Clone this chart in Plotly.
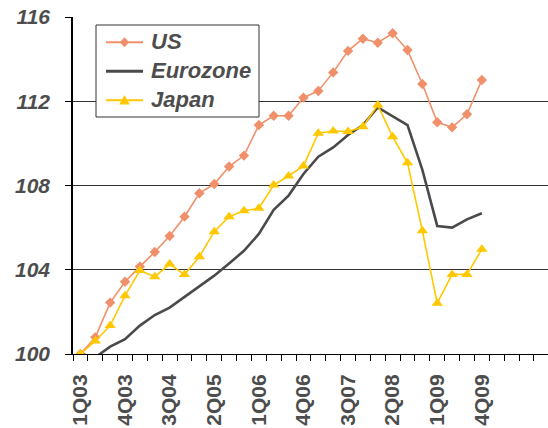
import plotly.graph_objects as go

# Quarterly index levels, 1Q03 = 100
quarters = [f"{q}Q{y:02d}" for y in range(3, 10) for q in range(1, 5)]

us = [100.0, 100.79, 102.44, 103.43, 104.15, 104.84, 105.6, 106.52,
      107.63, 108.07, 108.9, 109.42, 110.87, 111.31, 111.31, 112.17,
      112.49, 113.37, 114.39, 114.97, 114.78, 115.23, 114.43, 112.82,
      111.0, 110.76, 111.38, 113.01]

eurozone = [100.0, 99.84, 100.35, 100.7, 101.35, 101.85, 102.2, 102.72,
            103.2, 103.72, 104.3, 104.9, 105.7, 106.85, 107.52, 108.55,
            109.37, 109.81, 110.4, 110.87, 111.71, 111.3, 110.87, 108.74,
            106.08, 106.0, 106.39, 106.68]

japan = [100.0, 100.62, 101.35, 102.77, 103.96, 103.67, 104.27, 103.77,
         104.62, 105.81, 106.52, 106.8, 106.92, 108.02, 108.45, 108.93,
         110.48, 110.59, 110.56, 110.79, 111.82, 110.32, 109.08, 105.85,
         102.41, 103.78, 103.78, 104.97]

y_ticks = [100, 104, 108, 112, 116]
label_every = 3

x = list(range(len(quarters)))
text_color = "#4d4d4d"
font_family = "Liberation Sans, Arial, sans-serif"

W, H = 548, 428
M_L, M_R, M_T, M_B = 73, 0, 17, 74

# name, values, colour, line width, marker symbol (None = plain line)
series = [
    ("US", us, "#F0906A", 1.6, "diamond"),
    ("Eurozone", eurozone, "#4a4a4a", 2.6, None),
    ("Japan", japan, "#FFC800", 1.6, "triangle-up"),
]
marker_sizes = {"diamond": 8, "triangle-up": 10}

fig = go.Figure()
for name, vals, color, lw, sym in series:
    fig.add_trace(go.Scatter(
        x=x, y=vals, name=name,
        mode="lines+markers" if sym else "lines",
        line=dict(color=color, width=lw),
        marker=dict(symbol=sym, size=marker_sizes[sym], color=color) if sym else None,
        showlegend=False,
    ))

# Legend box drawn by hand (pixel positions converted to paper fractions)
def px_x(p):
    return (p - M_L) / (W - M_L - M_R)

def px_y(p):
    return (H - M_B - p) / (H - M_T - M_B)

box_l, box_r, box_t, box_b = 96, 259, 25, 117
row_y0, row_step = 42.3, 29
line_l, line_r = 106, 143
text_x = 149

shapes = [dict(type="rect", xref="paper", yref="paper",
               x0=px_x(box_l), x1=px_x(box_r), y0=px_y(box_b), y1=px_y(box_t),
               fillcolor="white", line=dict(color="#333333", width=1),
               layer="above")]
annotations = []
symbol_paths = {
    "diamond": "M0,5 L4.7,0 L0,-5 L-4.7,0 Z",
    "triangle-up": "M0,5.2 L5.3,-4.2 L-5.3,-4.2 Z",
}
for i, (name, vals, color, lw, sym) in enumerate(series):
    ry = row_y0 + i * row_step
    shapes.append(dict(type="line", xref="paper", yref="paper",
                       x0=px_x(line_l), x1=px_x(line_r),
                       y0=px_y(ry), y1=px_y(ry),
                       line=dict(color=color, width=lw + 0.4), layer="above"))
    if sym:
        shapes.append(dict(type="path", xref="paper", yref="paper",
                           xsizemode="pixel", ysizemode="pixel",
                           xanchor=px_x((line_l + line_r) / 2), yanchor=px_y(ry),
                           path=symbol_paths[sym],
                           fillcolor=color, line=dict(color=color, width=0),
                           layer="above"))
    annotations.append(dict(
        xref="paper", yref="paper", x=px_x(text_x), y=px_y(ry - 1),
        xanchor="left", yanchor="middle", showarrow=False, text=name,
        font=dict(size=22, family=font_family, color=text_color,
                  weight="bold", style="italic"),
    ))

fig.update_layout(
    width=W, height=H,
    margin=dict(l=M_L, r=M_R, t=M_T, b=M_B),
    plot_bgcolor="white", paper_bgcolor="white",
    font=dict(family=font_family, color=text_color),
    showlegend=False,
    shapes=shapes,
    annotations=annotations,
    xaxis=dict(
        range=[-0.5, 31.45],
        automargin=False,
        tickmode="array",
        tickvals=x[::label_every],
        ticktext=quarters[::label_every],
        tickangle=-90,
        ticks="",
        showgrid=False, zeroline=False,
        showline=True, linecolor="black", linewidth=1,
        tickfont=dict(size=21, family=font_family, color=text_color,
                      weight="bold"),
        ticklabelstandoff=11,
        minor=dict(tick0=-0.5, dtick=1, ticks="outside", ticklen=6,
                   tickcolor="black", tickwidth=1, showgrid=False),
    ),
    yaxis=dict(
        range=[100, 116],
        automargin=False,
        tickmode="array", tickvals=y_ticks,
        ticks="outside", ticklen=6, tickcolor="black",
        showgrid=True, gridcolor="#333333", gridwidth=1,
        zeroline=False,
        showline=True, linecolor="black", linewidth=1.5,
        tickfont=dict(size=21, family=font_family, color=text_color,
                      weight="bold", style="italic"),
        ticklabelstandoff=11,
    ),
)

fig.write_html("out.html")
